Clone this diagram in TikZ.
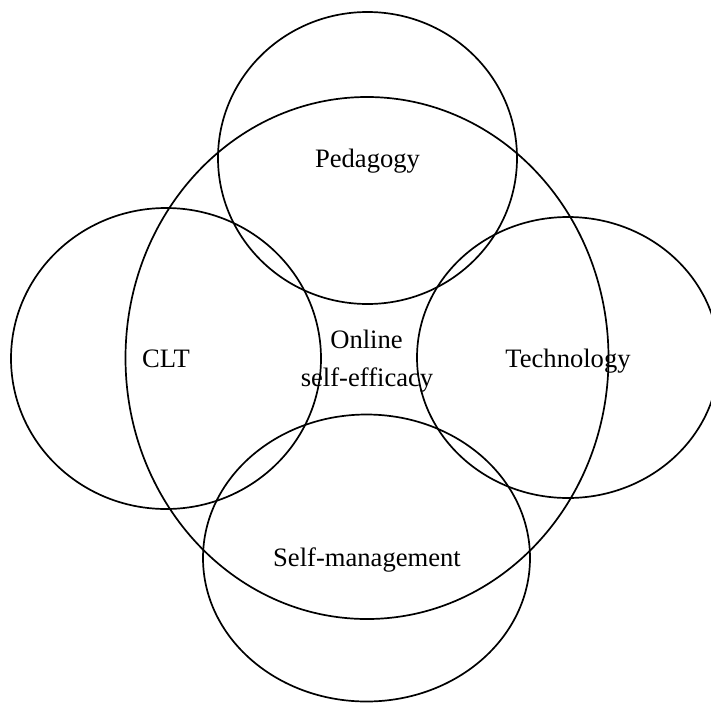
\documentclass[tikz,border=0pt]{standalone}
\usepackage{fontspec}
\setmainfont{Liberation Serif}
\usetikzlibrary{shapes.geometric}
\begin{document}
\begin{tikzpicture}[x=0.5pt, y=-0.5pt,
    ring/.style={draw, ellipse, line width=0.85pt, inner sep=0pt},
    word/.style={anchor=base, font=\fontsize{13.3}{16}\selectfont}]
        \useasboundingbox (0,0) rectangle (711,702);

        % the rings
        \node[ring, minimum width=241.5pt, minimum height=261pt] (E) at (367,358) {};
        \node[ring, minimum width=149.5pt, minimum height=146pt] (P) at (367.5,158) {};
        \node[ring, minimum width=155pt, minimum height=150.5pt] (C) at (166,358.5) {};
        \node[ring, minimum width=151pt, minimum height=140.5pt] (T) at (568,357.5) {};
        \node[ring, minimum width=163.5pt, minimum height=143.5pt] (S) at (366.5,558) {};

        % their names
        \node[word] (Pname) at (367.5,167) {Pedagogy};
        \node[word] (Cname) at (166,367) {CLT};
        \node[word] (Ename) at (366.5,348) {Online};
        \node[word] (Ename2) at (367,386) {self-efficacy};
        \node[word] (Tname) at (568,367) {Technology};
        \node[word] (Sname) at (367,566) {Self-management};
      \end{tikzpicture}
\end{document}
